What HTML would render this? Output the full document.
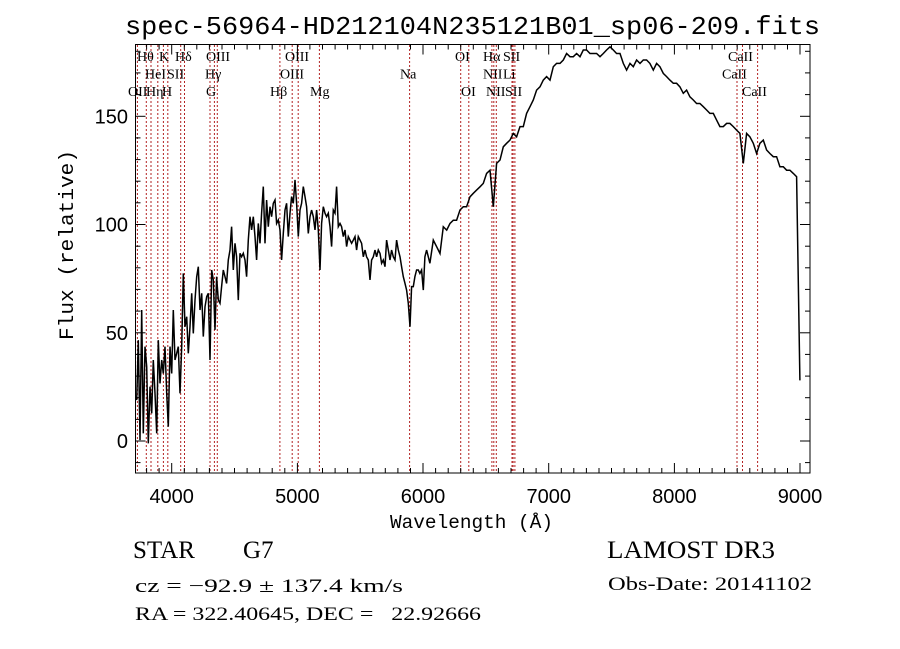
<!DOCTYPE html>
<html><head><meta charset="utf-8"><style>
html,body{margin:0;padding:0;background:#fff;}
svg{display:block;}
text{white-space:pre;}
.t{font-family:"Liberation Serif",serif;fill:#000;}
.m{font-family:"Liberation Mono",monospace;fill:#000;}
.s{font-family:"Liberation Sans",sans-serif;fill:#000;}
</style></head><body>
<svg id="chart" width="900" height="649" viewBox="0 0 900 649" xmlns="http://www.w3.org/2000/svg" xml:space="preserve">
<rect width="900" height="649" fill="#fff"/>
<defs><clipPath id="clip"><rect x="135.5" y="44.5" width="674.5" height="428.5"/></clipPath></defs>
<text class="m" x="125" y="34" font-size="26" textLength="695" lengthAdjust="spacingAndGlyphs">spec-56964-HD212104N235121B01_sp06-209.fits</text>
<g id="lines" clip-path="url(#clip)"></g>
<g id="labels"></g>
<path id="spec" fill="none" stroke="#000" stroke-width="1.5" clip-path="url(#clip)"/>
<rect x="135.5" y="44.5" width="674.5" height="428.5" fill="none" stroke="#000" stroke-width="1"/>
<g id="ticks" stroke="#000" stroke-width="1"></g>
<g id="ticklabels"></g>
<text class="m" x="390" y="528" font-size="19" textLength="163" lengthAdjust="spacingAndGlyphs">Wavelength (Å)</text>
<text class="m" transform="translate(73,340) rotate(-90)" font-size="20" textLength="190" lengthAdjust="spacingAndGlyphs">Flux (relative)</text>
<text class="t" x="133" y="558" font-size="25">STAR</text>
<text class="t" x="243" y="558" font-size="25">G7</text>
<text class="t" x="135" y="592" font-size="19" textLength="268" lengthAdjust="spacingAndGlyphs">cz = −92.9 ± 137.4 km/s</text>
<text class="t" x="135" y="620" font-size="19" textLength="346" lengthAdjust="spacingAndGlyphs">RA = 322.40645, DEC =   22.92666</text>
<text class="t" x="607" y="558" font-size="25" textLength="168" lengthAdjust="spacingAndGlyphs">LAMOST DR3</text>
<text class="t" x="608" y="590" font-size="19" textLength="204" lengthAdjust="spacingAndGlyphs">Obs-Date: 20141102</text>
</svg>
<script>
const blueStart = 3721.2, blueStep = 13.26;
const fluxBlue = [18.9,46.6,0.4,60.5,3.5,43.6,34.3,-1.1,25.1,12.8,37.4,22.0,3.5,46.6,26.6,37.4,31.2,43.6,22.0,6.6,
43.6,31.2,60.5,37.4,40.5,43.6,22.0,43.6,77.4,52.8,57.4,40.5,52.8,68.2,49.7,65.1,75.9,80.5,60.5,68.2,
48.2,62.0,66.7,68.2,37.4,79.0,74.4,51.3,75.9,65.1,63.6,71.3,79.0,75.9,72.8,83.6,88.2,99.0,79.0,91.3,
85.1,65.1,86.7,85.1,86.7,83.6,75.9,92.8,103.6,97.5,103.6,94.4,83.6,100.5,91.3,105.2,117.5,91.3,111.3,99.0,
108.2,103.6,109.8,111.3,100.5,102.1,97.5,83.6,95.9,106.7,109.8,94.4,105.2,112.9,109.8,120.6,109.8,94.4,106.7,109.8,
117.5,112.9,108.2,95.9,103.6,106.7,103.6,97.5,106.7,97.5,79.0,100.5,108.2,105.2,103.6,105.2,99.0,89.8,106.7,105.2,
117.5,99.0,100.5,99.0,94.4,97.5,89.8,94.4,92.8,91.3,92.8,94.4,88.2,94.4,92.8,91.3,85.1,88.2,85.1,83.6,
74.4,83.6,85.1,88.2,85.1,88.2,86.7,82.1,83.6,80.5,92.8,88.2,83.6,88.2,85.1,83.6,92.8,88.2,85.1,80.5,
75.9,72.8,69.7,63.6,52.8,71.3,71.3,75.9,79.0,79.0,77.4,79.0,69.7,85.1,88.2,85.1,82.1];
const redStart = 6081.8, redStep = 26.52;
const fluxRed = [92.8,89.7,86.6,99.0,97.4,100.5,102.0,102.0,106.7,108.2,108.2,112.8,114.4,115.9,117.4,119.0,123.6,125.1,108.2,128.2,
129.8,135.9,137.5,139.0,142.1,140.5,145.2,145.2,151.3,154.4,157.5,162.1,163.6,166.7,168.3,166.7,172.9,174.4,174.4,176.0,
179.0,177.5,177.5,179.0,177.5,180.6,180.6,179.0,179.0,179.0,177.5,179.0,180.6,182.1,180.6,179.0,179.0,174.4,171.3,174.4,
172.9,176.0,174.4,176.0,176.0,174.4,171.3,174.4,172.9,169.8,168.3,166.7,165.2,165.2,163.6,160.6,162.1,159.0,157.5,155.9,
155.9,154.4,152.9,151.3,151.3,148.2,145.2,145.2,146.7,146.7,145.2,143.6,142.1,128.2,142.1,140.5,137.5,132.8,137.5,139.0,
134.4,132.8,131.3,131.3,126.7,126.7,125.1,125.1,123.6,122.1,28.0];
const lineWaves = [3727,3798,3835,3889,3934,3969,4072,4102,4305,4340,4363,4861,4959,5007,5175,5893,6300,6364,6548,6563,6583,6708,6717,6731,8498,8542,8662];
const lineLabels = ["OII","Hθ","Hη","HeI","K","H","SII","Hδ","G","Hγ","OIII","Hβ","OIII","OIII","Mg","Na","OI","OI","NII","Hα","NII","Li","SII","SII","CaII","CaII","CaII"];
const labelRows = [2,0,2,1,0,2,1,0,2,1,0,2,1,0,2,1,0,2,1,0,2,1,0,2,0,1,2];
const labelX = [128,137,146,145,159,162,167,175,206,205,206,270,280,285,310,400,455,461,483,483,486,503,503,505,728,722,742];
const xTicks = [4000,5000,6000,7000,8000,9000];
const yTicks = [0,50,100,150];

const NS="http://www.w3.org/2000/svg";
const X = w => 171.7 + (w-4000)*0.12567;
const Y = f => 441 - f*2.165;
const XMAX=9080, YMAX=183.6;

let d="";
fluxBlue.forEach((f,i)=>{const w=blueStart+i*blueStep; d+=(i?"L":"M")+X(w).toFixed(1)+","+Y(f).toFixed(1);});
fluxRed.forEach((f,i)=>{const w=redStart+i*redStep; d+="L"+X(w).toFixed(1)+","+Y(f).toFixed(1);});
document.getElementById('spec').setAttribute('d',d);

const gl=document.getElementById('lines'), glab=document.getElementById('labels');
lineWaves.forEach((w,i)=>{
  const l=document.createElementNS(NS,'line');
  
  
  const x=X(w).toFixed(1);
  l.setAttribute('x1',x);l.setAttribute('x2',x);l.setAttribute('y1',45);l.setAttribute('y2',473);
  l.setAttribute('stroke','#b22222');l.setAttribute('stroke-width','1');l.setAttribute('stroke-dasharray','2,2');
  gl.appendChild(l);
  const t=document.createElementNS(NS,'text');
  
  
  t.setAttribute('class','t');
  t.setAttribute('x',labelX[i]);t.setAttribute('y',61+labelRows[i]*17.5);
  t.setAttribute('font-size','14');
  t.textContent=lineLabels[i];
  glab.appendChild(t);
});

const gt=document.getElementById('ticks'), gtl=document.getElementById('ticklabels');
function tick(x1,y1,x2,y2){const l=document.createElementNS(NS,'line');
  
  
  l.setAttribute('x1',x1);l.setAttribute('y1',y1);l.setAttribute('x2',x2);l.setAttribute('y2',y2);gt.appendChild(l);}
for(let w=3800;w<=XMAX;w+=100){const x=X(w).toFixed(1);const len=(w%1000===0)?10:5;tick(x,473,x,473-len);tick(x,44.5,x,44.5+len);}
for(let f=-10;f<=YMAX;f+=10){const y=Y(f).toFixed(1);const len=(f%50===0)?10:5;tick(135.5,y,135.5+len,y);tick(810,y,810-len,y);}
xTicks.forEach(v=>{const t=document.createElementNS(NS,'text');
  
  
  t.setAttribute('class','s');t.setAttribute('x',X(v));t.setAttribute('y',503);t.setAttribute('font-size','20');t.setAttribute('text-anchor','middle');
  t.textContent=v;gtl.appendChild(t);});
yTicks.forEach(v=>{const t=document.createElementNS(NS,'text');
  
  
  t.setAttribute('class','s');t.setAttribute('x',128);t.setAttribute('y',Y(v)+7);t.setAttribute('font-size','20');t.setAttribute('text-anchor','end');
  t.textContent=v;gtl.appendChild(t);});
</script>
</body></html>
